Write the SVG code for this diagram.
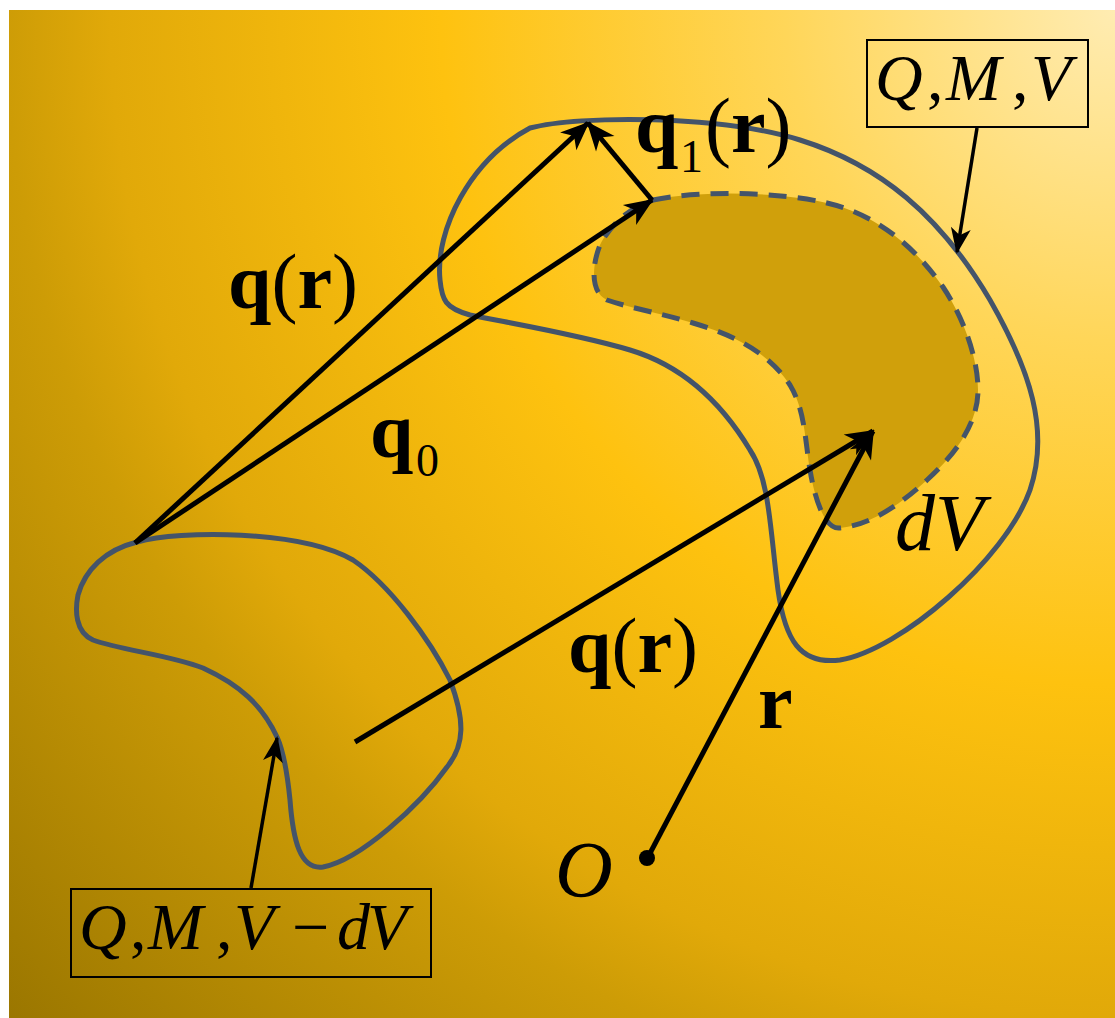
<svg xmlns="http://www.w3.org/2000/svg" width="1115" height="1018" viewBox="0 0 1115 1018">
<defs>
<radialGradient id="bg" gradientUnits="userSpaceOnUse" cx="1115" cy="10" r="1500">
<stop offset="0" stop-color="#ffecb2"/>
<stop offset="0.22" stop-color="#ffd659"/>
<stop offset="0.45" stop-color="#fec20f"/>
<stop offset="0.67" stop-color="#e1a909"/>
<stop offset="0.74" stop-color="#cd9c06"/>
<stop offset="1" stop-color="#9a7600"/>
</radialGradient>
<marker id="ah" markerUnits="userSpaceOnUse" markerWidth="34" markerHeight="28" viewBox="-30 -14 34 28" refX="0" refY="0" orient="auto">
<path d="M2,0 L-27,-12 L-19,0 L-27,12 Z" fill="#000"/>
</marker>
<marker id="ahs" markerUnits="userSpaceOnUse" markerWidth="30" markerHeight="24" viewBox="-26 -12 30 24" refX="0" refY="0" orient="auto">
<path d="M2,0 L-24,-10 L-17,0 L-24,10 Z" fill="#000"/>
</marker>
</defs>
<style>
.outline{fill:none;stroke:#44546a;stroke-width:5;stroke-linejoin:round}
.dashed{fill:#d0a00b;stroke:#44546a;stroke-width:5;stroke-dasharray:18 11}
.vec{stroke:#000;stroke-width:5;fill:none;marker-end:url(#ah)}
.call{stroke:#000;stroke-width:3.5;fill:none;marker-end:url(#ahs)}
.box{fill:none;stroke:#000;stroke-width:2}
.b{font-family:"Liberation Serif","Times New Roman",serif;font-weight:bold;font-size:78px;fill:#000}
.p{font-weight:normal}
.sub{font-family:"Liberation Serif","Times New Roman",serif;font-size:46px;fill:#000}
.it{font-family:"Liberation Serif","Times New Roman",serif;font-style:italic;font-size:80px;fill:#000}
.bt{font-family:"Liberation Serif","Times New Roman",serif;font-style:italic;font-size:66px;fill:#000}
.up{font-style:normal}
</style>
<rect x="9" y="10" width="1106" height="1008" fill="url(#bg)"/>

<g id="region-V">
<path class="outline" d="M440,280 C435,230 470,160 530,128 C580,115 720,115 800,140 C880,165 940,215 990,300 C1030,370 1050,430 1030,490 C1005,560 900,650 840,660 C800,665 785,640 778,590 C770,530 770,480 750,450 C720,400 680,365 630,350 C580,335 520,325 470,315 C445,308 442,300 440,280 Z"/>
</g>
<g id="region-dV">
<path class="dashed" d="M653,200 C700,190 780,192 827,203 C870,213 910,240 943,287 C965,320 978,360 978,390 C978,420 960,450 927,480 C900,505 870,525 840,528 C825,530 815,500 810,470 C805,440 805,410 790,385 C770,355 740,337 693,323 C660,313 630,308 607,300 C590,292 592,265 600,245 C610,225 630,207 653,200 Z"/>
</g>
<g id="region-V-dV">
<path class="outline" d="M137,542 C180,530 300,530 353,560 C390,585 430,640 450,680 C465,720 465,745 447,767 C420,805 360,860 323,867 C300,870 293,840 290,800 C287,770 283,750 277,737 C262,705 240,685 203,668 C170,655 120,650 93,640 C75,632 75,610 78,595 C85,570 105,550 137,542 Z"/>
</g>

<g id="connectors">
<line class="vec" x1="135" y1="543" x2="588" y2="123"/>
<line class="vec" x1="135" y1="543" x2="652" y2="200"/>
<line class="vec" x1="652" y1="200" x2="588" y2="123"/>
<line class="vec" x1="355" y1="742" x2="873" y2="431"/>
<line class="vec" x1="648" y1="857" x2="873" y2="431"/>
<line class="call" x1="977" y1="128" x2="957" y2="252"/>
<line class="call" x1="251" y1="888" x2="277" y2="738"/>
</g>

<g id="origin">
<circle cx="647" cy="858" r="8" fill="#000"/>
<text class="it" x="555" y="897">O</text>
</g>

<g id="label-q-upper"><text class="b" x="228" y="308">q<tspan class="p">(</tspan>r<tspan class="p">)</tspan></text></g>
<g id="label-q0"><text class="b" x="370" y="457">q</text><text class="sub" x="416" y="476">0</text></g>
<g id="label-q1"><text class="b" x="635" y="152">q</text><text class="sub" x="680" y="172">1</text><text class="b" x="705" y="152"><tspan class="p">(</tspan>r<tspan class="p">)</tspan></text></g>
<g id="label-q-lower"><text class="b" x="568" y="672">q<tspan class="p">(</tspan>r<tspan class="p">)</tspan></text></g>
<g id="label-r"><text class="b" x="758" y="728">r</text></g>
<g id="label-dV"><text class="it" x="895" y="550">dV</text></g>

<g id="box-QMV">
<rect class="box" x="867" y="40" width="221" height="87"/>
<text class="bt" y="100"><tspan x="875">Q</tspan><tspan x="927" class="up">,</tspan><tspan x="946">M</tspan><tspan x="1012" class="up">,</tspan><tspan x="1031">V</tspan></text>
</g>
<g id="box-QMV-dV">
<rect class="box" x="71" y="889" width="360" height="88"/>
<text class="bt" y="949"><tspan x="79">Q</tspan><tspan x="130" class="up">,</tspan><tspan x="148">M</tspan><tspan x="216" class="up">,</tspan><tspan x="234">V</tspan><tspan x="292" class="up">−</tspan><tspan x="337">d</tspan><tspan x="367">V</tspan></text>
</g>
</svg>
